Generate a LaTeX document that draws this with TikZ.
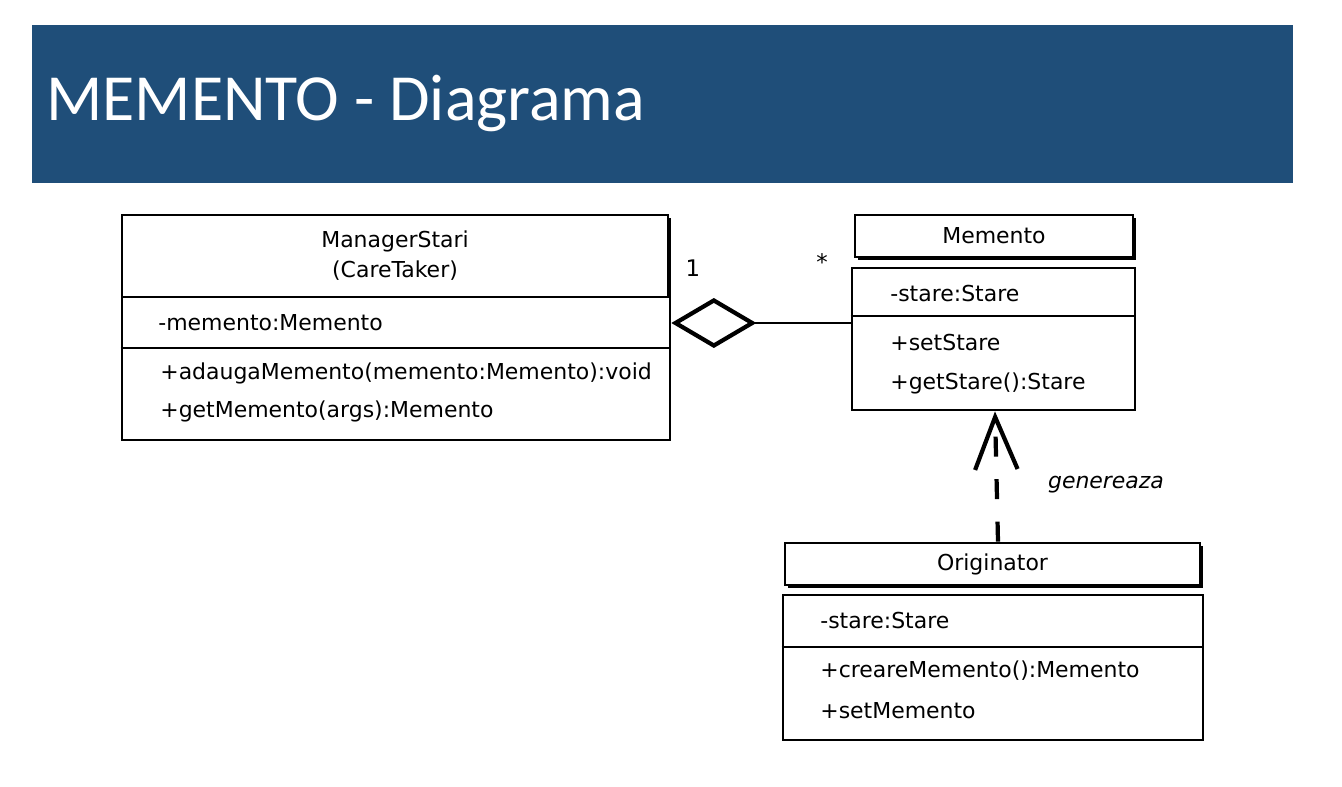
\documentclass[tikz,border=0pt]{standalone}
\usepackage{fontspec}
\usepackage{tikz}
\usetikzlibrary{arrows.meta, positioning, shapes, shadows}
\setmainfont{DejaVu Sans}
\newfontfamily\titlefont{Carlito}
\definecolor{bannerblue}{RGB}{31,78,121}

\begin{document}
\begin{tikzpicture}[x=0.02cm, y=-0.02cm,
  head/.style   = {draw, rectangle, line width=1.6pt, fill=white, minimum height=0.84cm,
                   font=\fontsize{12.5}{17}\selectfont,
                   drop shadow={shadow xshift=1.8pt, shadow yshift=-1.8pt, fill=black, opacity=1}},
  body/.style   = {draw, rectangle, line width=1.6pt, fill=white},
  member/.style = {anchor=west, inner sep=0pt, font=\fontsize{12.5}{15}\selectfont},
  sep/.style    = {line width=1.6pt},
  mult/.style   = {inner sep=0pt, font=\fontsize{13}{15}\selectfont}
]

\useasboundingbox [fill=white] (0,0) rectangle (1342,787);

\node [draw=none, rectangle, fill=bannerblue, minimum width=25.22cm, minimum height=3.16cm] at (662.5,104) (banner) {};
\node [anchor=west, text=white, font=\titlefont\fontsize{37.5}{40}\selectfont] at (40,104) (title) {MEMENTO - Diagrama};

\node [head, minimum width=10.92cm, minimum height=1.64cm, align=center] at (395,256) (mgrh) {ManagerStari\\(CareTaker)};
\node [body, minimum width=10.96cm, minimum height=2.86cm] at (396,368.5) (mgrb) {};
\node [member] at (158,323) (mgrattr) {-memento:Memento};
\node [member] at (160,373) (mgrop1)  {+adaugaMemento(memento:Memento):void};
\node [member] at (160,411) (mgrop2)  {+getMemento(args):Memento};

\node [head, minimum width=5.56cm] at (994,236)   (memh) {Memento};
\node [body, minimum width=5.66cm, minimum height=2.84cm] at (993.5,339) (memb) {};
\node [member] at (890,294) (memattr) {-stare:Stare};
\node [member] at (890,343) (memop1)  {+setStare};
\node [member] at (890,383) (memop2)  {+getStare():Stare};

\node [head, minimum width=8.3cm] at (992.5,564) (orgh) {Originator};
\node [body, minimum width=8.4cm, minimum height=2.9cm] at (993,667.5) (orgb) {};
\node [member] at (820,621) (orgattr) {-stare:Stare};
\node [member] at (820,671) (orgop1)  {+creareMemento():Memento};
\node [member] at (820,711) (orgop2)  {+setMemento};

\path [draw, sep] (mgrb.west |- 0,348) edge (mgrb.east |- 0,348);
\path [draw, sep] (memb.west |- 0,316) edge (memb.east |- 0,316);
\path [draw, sep] (orgb.west |- 0,647) edge (orgb.east |- 0,647);

\draw [line width=1.6pt, -{Diamond[open, length=1.7cm, width=1cm, line width=2.4pt]}]
  (memb.west |- mgrattr) -- (mgrb.east |- mgrattr);
\draw [line width=2.4pt, dash pattern=on 0.4cm off 0.45cm,
  -{Straight Barb[length=1.05cm, width=0.85cm, line width=2.4pt]}]
  (orgh.north -| 998,0) -- (memb.south -| 995,0);

\node [mult] at (693,268) (one)  {1};
\node [mult] at (822,262) (many) {*};
\node [font=\fontsize{12.5}{15}\selectfont\itshape] at (1106,485) (gen) {genereaza};

\end{tikzpicture}
\end{document}
